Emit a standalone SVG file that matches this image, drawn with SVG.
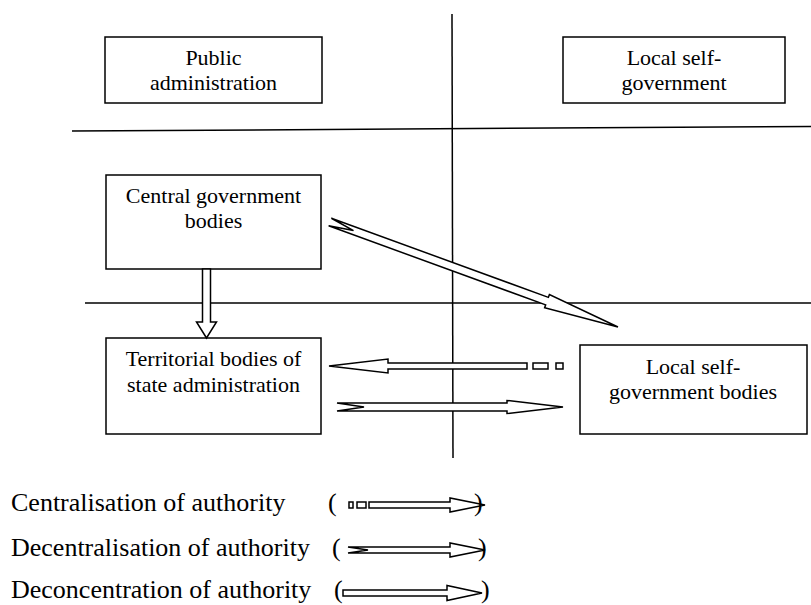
<svg xmlns="http://www.w3.org/2000/svg" width="811" height="605" viewBox="0 0 811 605">
<style>
.box{fill:#fff;stroke:#000;stroke-width:1.5}
.t{font-family:"Liberation Serif","Times New Roman",serif;font-size:22px;fill:#000;text-anchor:middle}
.lg{font-family:"Liberation Serif","Times New Roman",serif;font-size:26px;fill:#000}
.ln{stroke:#000;stroke-width:1.5;fill:none}
.ar{fill:#fff;stroke:#000;stroke-width:1.5;stroke-linejoin:miter}
</style>
<rect width="811" height="605" fill="#fff"/>
<g id="grid">
<line class="ln" x1="72" y1="131" x2="811" y2="126.5"/>
<line class="ln" x1="85" y1="303" x2="811" y2="303"/>
<line class="ln" x1="452" y1="14" x2="453" y2="458"/>
</g>
<g id="public-administration">
<rect class="box" x="105" y="37" width="217" height="66"/>
<text class="t" x="213.5" y="65">Public</text>
<text class="t" x="213.5" y="90">administration</text>
</g>
<g id="local-self-government">
<rect class="box" x="563" y="37" width="222" height="66"/>
<text class="t" x="674" y="65">Local self-</text>
<text class="t" x="674" y="90">government</text>
</g>
<g id="central-government-bodies">
<rect class="box" x="106" y="175" width="215" height="94"/>
<text class="t" x="213.5" y="203">Central government</text>
<text class="t" x="213.5" y="228">bodies</text>
</g>
<g id="territorial-bodies">
<rect class="box" x="106" y="338" width="215" height="96"/>
<text class="t" x="213.5" y="366">Territorial bodies of</text>
<text class="t" x="213.5" y="392">state administration</text>
</g>
<g id="local-self-government-bodies">
<rect class="box" x="580" y="345" width="227" height="89"/>
<text class="t" x="693" y="374">Local self-</text>
<text class="t" x="693" y="399">government bodies</text>
</g>
<g id="connectors">
<polygon class="ar" points="202.5,269 210.5,269 210.5,322 216.5,322 206.5,338 196.5,322 202.5,322"/>
<g transform="translate(330,222) rotate(20.03)">
<polygon class="ar" points="0,-4 231,-4 231,-7 306.5,0 231,7 231,4 0,4 25,0"/>
</g>
<polygon class="ar" points="527,363 388,363 388,359 329,366 388,373 388,369 527,369"/>
<rect class="ar" x="533" y="363" width="15" height="6"/>
<rect class="ar" x="556" y="363" width="7" height="6"/>
<polygon class="ar" points="337,403 507,403 507,400.5 563,407 507,413.5 507,411 337,411 364,407"/>
</g>
<g id="legend">
<text class="lg" x="11" y="511">Centralisation of authority</text>
<text class="lg" x="328" y="511">(</text>
<rect class="ar" x="349" y="502" width="4" height="6"/>
<rect class="ar" x="357" y="502" width="9" height="6"/>
<polygon class="ar" points="369,502 450,502 450,498 485,505 450,512 450,508 369,508"/>
<text class="lg" x="474" y="511">)</text>
<text class="lg" x="11" y="556">Decentralisation of authority</text>
<text class="lg" x="332" y="556">(</text>
<polygon class="ar" points="348,547 450,547 450,543 485,550 450,557 450,553 348,553 368,550"/>
<text class="lg" x="478" y="556">)</text>
<text class="lg" x="11" y="598">Deconcentration of authority</text>
<text class="lg" x="334" y="598">(</text>
<polygon class="ar" points="343,590 447,590 447,585.5 482,593 447,600.5 447,596 343,596"/>
<text class="lg" x="481" y="598">)</text>
</g>
</svg>
